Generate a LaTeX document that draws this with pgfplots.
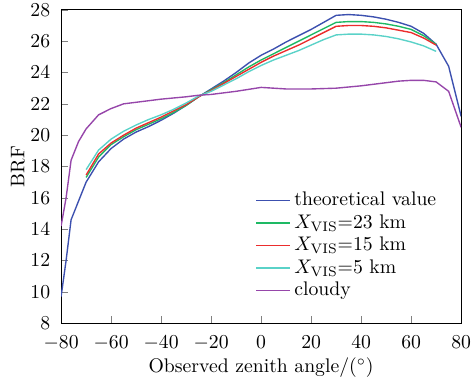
\documentclass[border=0pt]{standalone}
\usepackage{pgfplots}
\pgfplotsset{compat=1.18}
\definecolor{cblue}{RGB}{60,80,175}
\definecolor{cgreen}{RGB}{30,185,100}
\definecolor{cred}{RGB}{235,45,45}
\definecolor{ccyan}{RGB}{90,210,200}
\definecolor{cpurple}{RGB}{150,70,170}
\begin{document}
\begin{tikzpicture}
\begin{axis}[
  at={(0,0)}, anchor=south west,
  scale only axis, width=203pt, height=159pt,
  xmin=-80, xmax=80, ymin=8, ymax=28,
  xtick={-80,-60,...,80}, ytick={8,10,...,28},
  xtick pos=bottom, ytick pos=left, tick align=inside,
  major tick length=3.5pt,
  yticklabel style={xshift=-2pt},
  xticklabel style={yshift=-3pt},
  xlabel={Observed zenith angle/($^\circ$)}, ylabel={BRF},
  every axis y label/.style={at={(axis description cs:-0.108,0.5)},rotate=90,anchor=center},
  every axis x label/.style={at={(axis description cs:0.5,-0.143)},anchor=center},
  legend style={draw=none, fill=none, at={(rel axis cs:0.47,0.445)}, anchor=north west,
    row sep=-1pt, font=\normalsize},
  legend cell align=left,
  every axis plot/.append style={line width=0.7pt},
]
\addplot[cblue] coordinates {(-80,9.7)(-78,12.0)(-76,14.6)(-73,15.8)(-70,17.0)(-65,18.3)(-60,19.15)(-55,19.75)(-50,20.2)(-45,20.55)(-40,20.95)(-35,21.4)(-30,21.9)(-25,22.45)(-20,22.95)(-15,23.45)(-10,24.0)(-5,24.6)(0,25.1)(5,25.5)(10,25.95)(15,26.35)(20,26.75)(25,27.2)(30,27.65)(35,27.7)(40,27.65)(45,27.55)(50,27.4)(55,27.2)(60,26.95)(65,26.5)(70,25.8)(75,24.4)(80,21.2)};
\addlegendentry{theoretical value}
\addplot[cgreen] coordinates {(-70,17.3)(-65,18.6)(-60,19.4)(-55,19.9)(-50,20.35)(-45,20.7)(-40,21.05)(-35,21.45)(-30,21.9)(-25,22.45)(-20,22.9)(-15,23.35)(-10,23.85)(-5,24.35)(0,24.8)(5,25.2)(10,25.6)(15,26.0)(20,26.4)(25,26.8)(30,27.2)(35,27.25)(40,27.25)(45,27.2)(50,27.1)(55,26.95)(60,26.75)(65,26.35)(70,25.8)};
\addlegendentry{$X_{\mathrm{VIS}}$=23 km}
\addplot[cred] coordinates {(-70,17.45)(-65,18.8)(-60,19.5)(-55,20.0)(-50,20.45)(-45,20.8)(-40,21.15)(-35,21.55)(-30,21.95)(-25,22.45)(-20,22.85)(-15,23.3)(-10,23.75)(-5,24.2)(0,24.65)(5,25.05)(10,25.4)(15,25.75)(20,26.15)(25,26.55)(30,26.95)(35,27.0)(40,27.0)(45,26.95)(50,26.85)(55,26.7)(60,26.55)(65,26.2)(70,25.75)};
\addlegendentry{$X_{\mathrm{VIS}}$=15 km}
\addplot[ccyan] coordinates {(-70,17.8)(-65,19.05)(-60,19.75)(-55,20.25)(-50,20.65)(-45,21.0)(-40,21.3)(-35,21.65)(-30,22.05)(-25,22.5)(-20,22.8)(-15,23.2)(-10,23.6)(-5,24.05)(0,24.45)(5,24.8)(10,25.1)(15,25.4)(20,25.75)(25,26.1)(30,26.4)(35,26.45)(40,26.45)(45,26.4)(50,26.3)(55,26.15)(60,25.95)(65,25.7)(70,25.35)};
\addlegendentry{$X_{\mathrm{VIS}}$=5 km}
\addplot[cpurple] coordinates {(-80,14.2)(-78,16.0)(-76,18.4)(-73,19.6)(-70,20.4)(-65,21.3)(-60,21.7)(-55,22.0)(-50,22.1)(-40,22.3)(-30,22.45)(-25,22.55)(-20,22.6)(-10,22.8)(0,23.05)(10,22.95)(20,22.95)(30,23.0)(40,23.15)(50,23.35)(55,23.45)(60,23.5)(65,23.5)(70,23.4)(75,22.8)(80,20.5)};
\addlegendentry{cloudy}
\end{axis}
\pgfresetboundingbox
\useasboundingbox (-31pt,-30.5pt) rectangle (208pt,164pt);
\end{tikzpicture}
\end{document}
